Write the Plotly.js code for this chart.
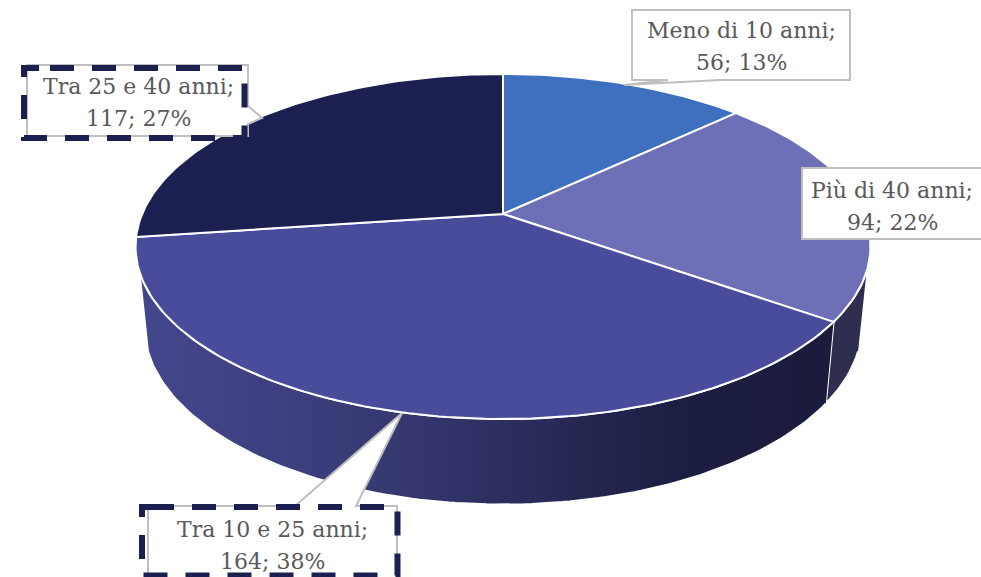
<!DOCTYPE html>
<html>
<head>
<meta charset="utf-8">
<script src="https://cdn.plot.ly/plotly-3.0.1.min.js"></script>
<style>html,body{margin:0;padding:0;background:#fff}#chart{width:981px;height:577px}</style>
</head>
<body>
<div id="chart"></div>
<script>
const categories = ["Meno di 10 anni", "Più di 40 anni", "Tra 10 e 25 anni", "Tra 25 e 40 anni"];
const values = [56, 94, 164, 117];
const topColors = ["#3f6fbf", "#6d70b6", "#484c9b", "#1c2050"];
const FONT = "'DejaVu Serif', serif";
const TEXT_SIZE = 22;

// Perspective view of the disc
const APEX_X = 503, APEX_Y = 214;
const PERSP = 0.1884, TOP_DX = 360.9, TOP_DY = 166.4;
const BOT_DX = 352.5, BOT_DY = 173, BOT_Y = 291.4;
const WALL_FROM = 109, WALL_TO = 251;

function rim(deg, dx, dy, cy) {
  const t = deg * Math.PI / 180, u = Math.sin(t), v = Math.cos(t), d = 1 + PERSP * v;
  return [APEX_X + dx * u / d, cy - dy * v / d];
}
const topRim = d => rim(d, TOP_DX, TOP_DY, APEX_Y);
const botRim = d => rim(d, BOT_DX, BOT_DY, BOT_Y);
function arc(fn, a, b) {
  const n = Math.max(2, Math.ceil(Math.abs(b - a))), out = [];
  for (let i = 0; i <= n; i++) out.push(fn(a + (b - a) * i / n));
  return out;
}
function polyTrace(pts, extra) {
  return Object.assign({
    type: "scatter", mode: "lines", hoverinfo: "skip", showlegend: false,
    x: pts.map(p => p[0]), y: pts.map(p => p[1]), fill: "toself",
    line: {color: "#ffffff", width: 2}
  }, extra);
}

const total = values.reduce((a, b) => a + b, 0);
const edges = [0];
values.forEach(v => edges.push(edges[edges.length - 1] + v / total * 360));

const traces = [];
// Side wall: right part of "Più di 40 anni", then "Tra 10 e 25 anni"
traces.push(polyTrace(arc(topRim, WALL_FROM, edges[2]).concat(arc(botRim, edges[2], WALL_FROM)),
  {name: categories[1], fillcolor: "#2e2e4e"}));
traces.push(polyTrace(arc(topRim, edges[2], WALL_TO).concat(arc(botRim, WALL_TO, edges[2])), {
  name: categories[2],
  fillcolor: "#383a72",
  fillgradient: {
    type: "horizontal", start: 140, stop: 825,
    colorscale: [[0, "#43478c"], [0.3, "#3a3c78"], [0.55, "#2c2d5c"], [0.78, "#1c1e42"], [1, "#1b1c3c"]]
  }
}));
// Top face
values.forEach((v, i) => {
  const pts = [[APEX_X, APEX_Y]].concat(arc(topRim, edges[i], edges[i + 1]));
  pts.push([APEX_X, APEX_Y]);
  traces.push(polyTrace(pts, {name: categories[i], fillcolor: topColors[i]}));
});

// Label boxes
const GREY = "#bfbfbf", NAVY = "#1c2050";
const boxPaths = [
  "M632,10 H850 V80 H720 L624,85 L668,80 H632 Z",
  "M802,168 H990 V239 H802 Z",
  "M148,506 H295 L402,413 L356,506 H397 V590 H148 Z",
  "M27,65 H248 V106 L262,118 L248,124 V136 H27 Z"
];
const dashPaths = [
  null, null,
  "M150,507 H397.5 V575.5 H142 V507 H150",
  "M50,68 H244.5 V138 H24 V68 H50"
];
const labelX = [741, 892, 272, 138];
const line1Y = [30, 190, 529, 86];
const line2Y = [62, 222, 561, 118];

const shapes = [];
boxPaths.forEach(p => shapes.push({type: "path", path: p, xref: "x", yref: "y", layer: "above",
  fillcolor: "#ffffff", line: {color: GREY, width: 2}}));
dashPaths.forEach(p => { if (p) shapes.push({type: "path", path: p, xref: "x", yref: "y", layer: "above",
  fillcolor: "rgba(0,0,0,0)", line: {color: NAVY, width: 6, dash: "24px,18px"}}); });

const labelFont = {family: FONT, size: TEXT_SIZE, color: "#595959"};
const annotations = [];
categories.forEach((c, i) => {
  annotations.push({x: labelX[i], y: line1Y[i], xref: "x", yref: "y", showarrow: false,
    xanchor: "center", yanchor: "middle", text: c + ";", font: labelFont});
  annotations.push({x: labelX[i], y: line2Y[i], xref: "x", yref: "y", showarrow: false,
    xanchor: "center", yanchor: "middle",
    text: values[i] + "; " + Math.round(values[i] / total * 100) + "%", font: labelFont});
});

Plotly.newPlot("chart", traces, {
  width: 981, height: 577,
  margin: {l: 0, r: 0, t: 0, b: 0, pad: 0},
  paper_bgcolor: "#ffffff", plot_bgcolor: "#ffffff",
  showlegend: false,
  xaxis: {range: [0, 981], visible: false, fixedrange: true},
  yaxis: {range: [577, 0], visible: false, fixedrange: true},
  shapes: shapes, annotations: annotations
}, {displayModeBar: false, staticPlot: true});
</script>
</body>
</html>
